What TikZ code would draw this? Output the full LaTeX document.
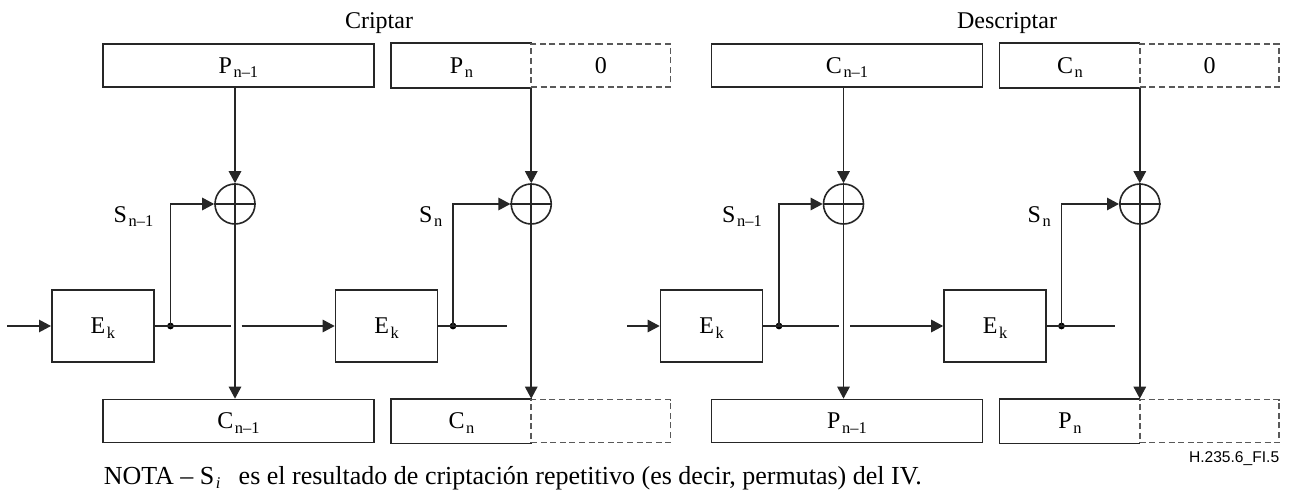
\documentclass[tikz,border=0pt]{standalone}
\usepackage{fontspec}
\setmainfont{Liberation Serif}
\newfontfamily\labelsans{Liberation Sans}
\usetikzlibrary{arrows.meta}
\newcommand\sbs[1]{\hspace{0.8pt}\raisebox{-2.2pt}{\fontsize{8.2}{9}\selectfont #1}}
\begin{document}
\begin{tikzpicture}[x=0.5pt,y=-0.5pt,line width=0.8pt,
  ln/.style={draw=black!85},
  arr/.style={-{Triangle[length=6pt,width=6.2pt]}},
  txt/.style={inner sep=0pt,font=\fontsize{12}{14}\selectfont},
  box/.style={draw=black!85,rectangle,inner sep=0pt,minimum height=21.5pt,
              text height=7.9pt,text depth=0pt,font=\fontsize{12}{14}\selectfont},
  openbox/.style={box,draw=none},
  dbox/.style={box,draw=black!65,dash pattern=on 3pt off 1.8pt},
  ekbox/.style={box,minimum width=51pt,minimum height=35.75pt},
  xor/.style={circle,draw=black!85,minimum size=20pt,inner sep=0pt},
  dot/.style={circle,fill=black,inner sep=0pt,minimum size=3.4pt}]
\fill[white] (0,0) rectangle (1291,492);
\useasboundingbox (0,0) rectangle (1291,492);

% ---------------- Criptar ----------------
\node[txt,anchor=base] (t1) at (379,28.3) {Criptar};
\node[box,minimum width=135.65pt] (P1) at (238.4,65.5) {P\sbs{n–1}};
\node[openbox,minimum width=69.65pt] (P2) at (461.4,65.5) {P\sbs{n}};
\draw[ln] (P2.north east) -- (P2.north west) -- (P2.south west) -- (P2.south east);
\node[dbox,minimum width=69.75pt] (Z1) at (600.8,65.5) {0};

\node[xor] (X1) at (235,204) {};
\draw[ln] (X1.north) -- (X1.south) (X1.west) -- (X1.east);
\node[xor] (X2) at (531.25,204) {};
\draw[ln] (X2.north) -- (X2.south) (X2.west) -- (X2.east);

\node[ekbox] (E1) at (102.8,326) {E\sbs{k}};
\node[ekbox] (E2) at (386.5,326) {E\sbs{k}};

\node[box,minimum width=135.65pt] (C1) at (238.4,421) {C\sbs{n–1}};
\node[openbox,minimum width=69.65pt] (C2) at (461.4,421) {C\sbs{n}};
\draw[ln] (C2.north east) -- (C2.north west) -- (C2.south west) -- (C2.south east);
\node[dbox,minimum width=69.75pt] (Z2) at (600.8,421) {};

\node[txt,anchor=base east] (S1) at (154,222) {S\sbs{n–1}};
\node[txt,anchor=base east] (S2) at (443,222) {S\sbs{n}};

\coordinate (in1) at (7,326);
\node[dot] (d1) at (170.5,326) {};
\node[dot] (d2) at (453,326) {};
\coordinate (g1a) at (230.7,326);
\coordinate (g1b) at (241.7,326);
\coordinate (o2) at (506.7,326);

\draw[ln,arr] (in1) -- (E1.west);
\draw[ln] (E1.east) -- (d1.center) -- (g1a);
\draw[ln,arr] (g1b) -- (E2.west);
\draw[ln] (E2.east) -- (d2.center) -- (o2);
\draw[ln,arr] (d1.center) |- (X1.west);
\draw[ln,arr] (d2.center) |- (X2.west);
\draw[ln,arr] (X1 |- P1.south) -- (X1.north);
\draw[ln,arr] (X1.south) -- (X1 |- C1.north);
\draw[ln,arr] (X2 |- P2.south) -- (X2.north);
\draw[ln,arr] (X2.south) -- (X2 |- C2.north);

% ---------------- Descriptar ----------------
\node[txt,anchor=base] (t2) at (1007,28.3) {Descriptar};
\node[box,minimum width=135.65pt] (Q1) at (847,65.5) {C\sbs{n–1}};
\node[openbox,minimum width=69.65pt] (Q2) at (1070,65.5) {C\sbs{n}};
\draw[ln] (Q2.north east) -- (Q2.north west) -- (Q2.south west) -- (Q2.south east);
\node[dbox,minimum width=69.75pt] (Z3) at (1209.5,65.5) {0};

\node[xor] (Y1) at (843.5,204) {};
\draw[ln] (Y1.north) -- (Y1.south) (Y1.west) -- (Y1.east);
\node[xor] (Y2) at (1139.8,204) {};
\draw[ln] (Y2.north) -- (Y2.south) (Y2.west) -- (Y2.east);

\node[ekbox] (F1) at (711.5,326) {E\sbs{k}};
\node[ekbox] (F2) at (995,326) {E\sbs{k}};

\node[box,minimum width=135.65pt] (R1) at (847,421) {P\sbs{n–1}};
\node[openbox,minimum width=69.65pt] (R2) at (1070,421) {P\sbs{n}};
\draw[ln] (R2.north east) -- (R2.north west) -- (R2.south west) -- (R2.south east);
\node[dbox,minimum width=69.75pt] (Z4) at (1209.5,421) {};

\node[txt,anchor=base east] (T1) at (762.5,222) {S\sbs{n–1}};
\node[txt,anchor=base east] (T2) at (1051.5,222) {S\sbs{n}};

\coordinate (in2) at (627,326);
\node[dot] (e1) at (779,326) {};
\node[dot] (e2) at (1061.5,326) {};
\coordinate (h1a) at (839.2,326);
\coordinate (h1b) at (850.2,326);
\coordinate (o4) at (1115.2,326);

\draw[ln,arr] (in2) -- (F1.west);
\draw[ln] (F1.east) -- (e1.center) -- (h1a);
\draw[ln,arr] (h1b) -- (F2.west);
\draw[ln] (F2.east) -- (e2.center) -- (o4);
\draw[ln,arr] (e1.center) |- (Y1.west);
\draw[ln,arr] (e2.center) |- (Y2.west);
\draw[ln,arr] (Y1 |- Q1.south) -- (Y1.north);
\draw[ln,arr] (Y1.south) -- (Y1 |- R1.north);
\draw[ln,arr] (Y2 |- Q2.south) -- (Y2.north);
\draw[ln,arr] (Y2.south) -- (Y2 |- R2.north);

% ---------------- notes ----------------
\node[inner sep=0pt,font=\fontsize{13}{15}\selectfont,anchor=base west] (nota) at (103,484) {NOTA – S\sbs{\textit{i}}\hspace{0.45em} es el resultado de criptación repetitivo (es decir, permutas) del IV.};
\node[anchor=base east,inner sep=0pt,font=\labelsans\fontsize{7.8}{9}\selectfont] (fig) at (1280,462.7) {H.235.6\_FI.5};
\end{tikzpicture}
\end{document}
